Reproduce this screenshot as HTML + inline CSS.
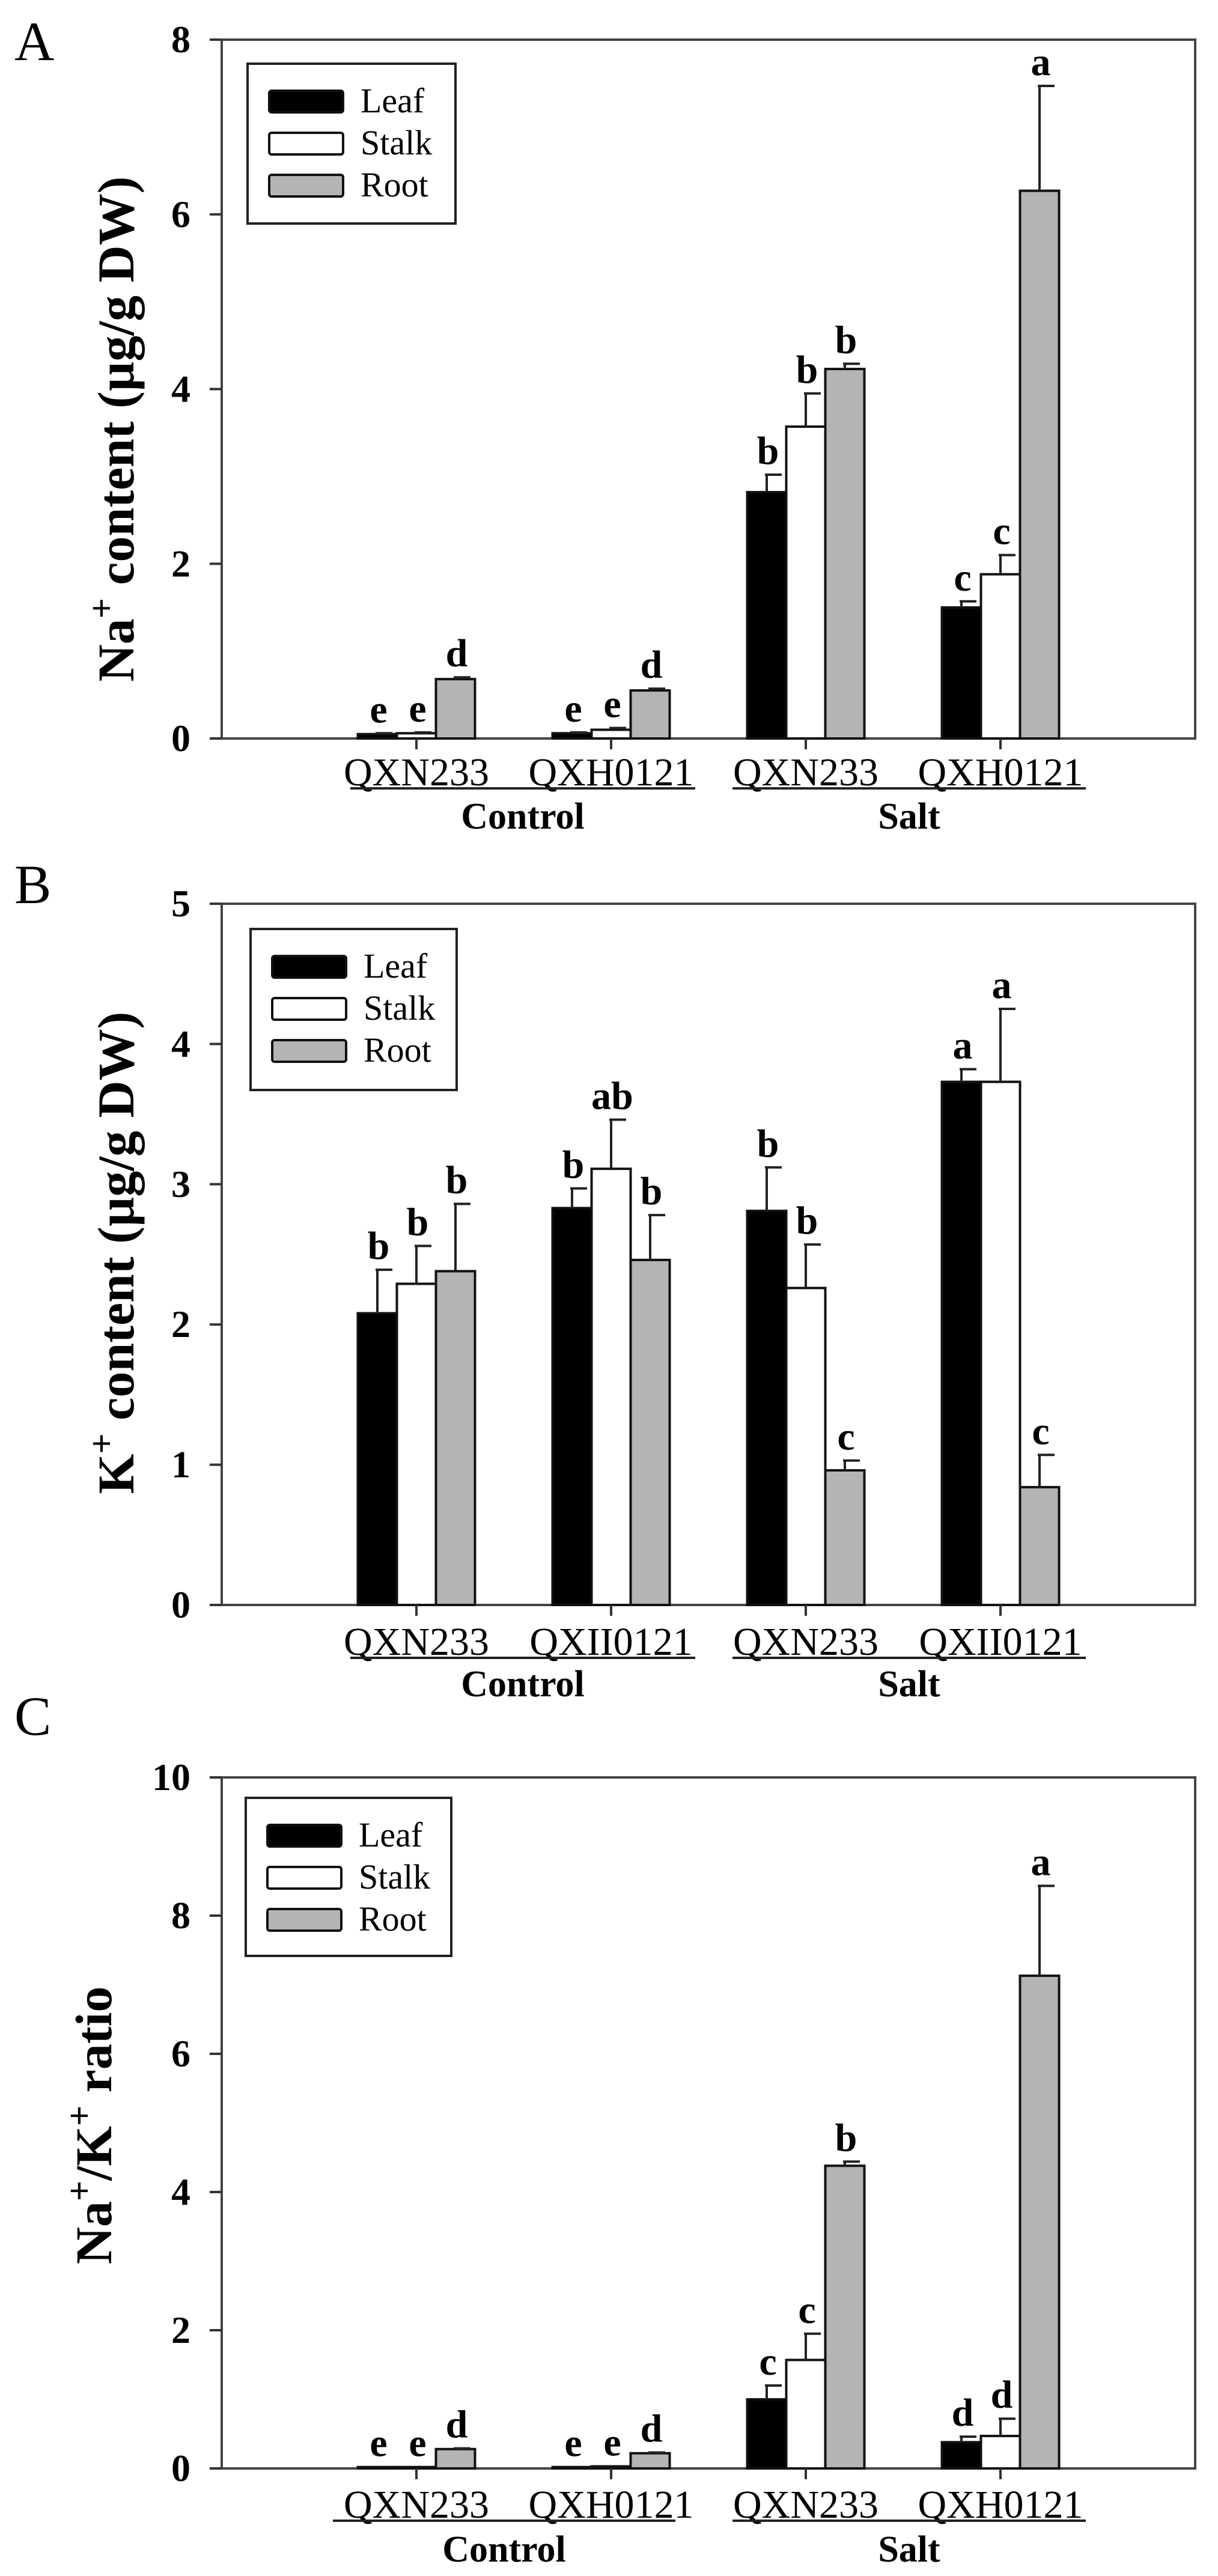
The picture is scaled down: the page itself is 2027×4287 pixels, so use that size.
<!DOCTYPE html>
<html><head><meta charset="utf-8"><style>
html,body{margin:0;padding:0;background:#fff;}
svg{display:block;font-family:"Liberation Serif",serif;}
</style></head><body>
<svg id="fig" width="2027" height="4287" viewBox="0 0 2027 4287" xmlns="http://www.w3.org/2000/svg"></svg>
<script>
const categories = ["QXN233","QXH0121","QXN233","QXH0121"];
const categoriesB = ["QXN233","QXII0121","QXN233","QXII0121"];
const seriesNames = ["Leaf","Stalk","Root"];
const groupNames = ["Control","Salt"];

const naLeaf = [0.05,0.06,2.82,1.50];
const naStalk = [0.06,0.10,3.57,1.88];
const naRoot = [0.68,0.55,4.23,6.27];
const naLeafErr = [0.01,0.01,0.20,0.07];
const naStalkErr = [0.01,0.02,0.38,0.22];
const naRootErr = [0.02,0.02,0.06,1.20];
const naLeafSig = ["e","e","b","c"];
const naStalkSig = ["e","e","b","c"];
const naRootSig = ["d","d","b","a"];
const naTicks = [0,2,4,6,8];

const kLeaf = [2.08,2.83,2.81,3.73];
const kStalk = [2.29,3.11,2.26,3.73];
const kRoot = [2.38,2.46,0.96,0.84];
const kLeafErr = [0.31,0.14,0.31,0.09];
const kStalkErr = [0.27,0.35,0.31,0.52];
const kRootErr = [0.48,0.32,0.07,0.23];
const kLeafSig = ["b","b","b","a"];
const kStalkSig = ["b","ab","b","a"];
const kRootSig = ["b","b","c","c"];
const kTicks = [0,1,2,3,4,5];

const rLeaf = [0.02,0.02,1.00,0.38];
const rStalk = [0.02,0.03,1.57,0.47];
const rRoot = [0.28,0.22,4.38,7.13];
const rLeafErr = [0,0,0.20,0.08];
const rStalkErr = [0,0,0.38,0.25];
const rRootErr = [0.01,0.01,0.06,1.30];
const rLeafSig = ["e","e","c","d"];
const rStalkSig = ["e","e","c","d"];
const rRootSig = ["d","d","b","a"];
const rTicks = [0,2,4,6,8,10];

const NS = "http://www.w3.org/2000/svg";
const svg = document.getElementById("fig");
function mk(tag, attrs, parent, text){
  const e = document.createElementNS(NS, tag);
  for (const k in attrs) e.setAttribute(k, attrs[k]);
  if (text !== undefined) e.textContent = text;
  (parent||svg).appendChild(e);
  return e;
}
const fills = ["#000","#fff","#b4b4b4"];

function panel(cfg){
  const g = mk("g",{});
  
  
  const L=369, R=1989, T=cfg.top, Z=cfg.zero, ymax=cfg.ticks[cfg.ticks.length-1];
  const ys = v => Z - (Z-T)*v/ymax;
  const xs = i => L + (R-L)*(i+1)/5;
  const pl = mk("text",{x:24,y:cfg.letterY,"font-size":92,fill:"#000"},g,cfg.letter);
  
  
  const fr = mk("rect",{x:L,y:T,width:R-L,height:Z-T,fill:"none",stroke:"#444","stroke-width":4},g);
  
  
  cfg.ticks.forEach(t=>{
    const y = ys(t);
    const tk = mk("line",{x1:L-20,x2:L,y1:y,y2:y,stroke:"#333","stroke-width":4},g);
    
    
    const tl = mk("text",{x:L-52,y:y+21,"font-size":64,"font-weight":"bold","text-anchor":"end"},g,String(t));
    
    
  });
  const yt = mk("text",{x:0,y:0,"font-size":86,"font-weight":"bold","text-anchor":"middle",transform:`translate(${cfg.titleX},${cfg.titleY}) rotate(-90)`},g);
  
  
  cfg.title.forEach(p=>{
    mk("tspan",p.sup?{"baseline-shift":"super","font-size":60}:{},yt,p.t);
  });
  const bw = 65;
  cfg.series.forEach((s,si)=>{
    s.vals.forEach((v,i)=>{
      const x = xs(i) - 1.5*bw + si*bw;
      const y = ys(v);
      const b = mk("rect",{x:x,y:y,width:bw,height:Math.max(Z-y,1),fill:fills[si],stroke:"#111","stroke-width":4},g);
      
      
      const ey = ys(v + s.err[i]);
      if (s.err[i] > 0) {
        const el = mk("path",{d:`M${x+bw/2} ${y} V${ey} M${x+bw/2-3} ${ey} H${x+bw/2+25}`,stroke:"#222","stroke-width":4,fill:"none"},g);
        
        
      }
      const st = mk("text",{x:x+bw/2+2,y:ey-18,"font-size":66,"font-weight":"bold","text-anchor":"middle"},g,s.sig[i]);
      
      
    });
  });
  cfg.cats.forEach((c,i)=>{
    const tk = mk("line",{x1:xs(i),x2:xs(i),y1:Z,y2:Z+18,stroke:"#333","stroke-width":4},g);
    
    
    const tl = mk("text",{x:xs(i),y:cfg.catY,"font-size":66,"text-anchor":"middle"},g,c);
    
    
  });
  cfg.groupLines.forEach((gl,k)=>{
    const ln = mk("line",{x1:gl[0],x2:gl[1],y1:cfg.lineY,y2:cfg.lineY,stroke:"#222","stroke-width":4},g);
    
    
    const gt = mk("text",{x:(gl[0]+gl[1])/2,y:cfg.groupY,"font-size":62,"font-weight":"bold","text-anchor":"middle"},g,groupNames[k]);
    
    
  });
  const lg = mk("g",{},g);
  
  
  const [lx,ly,lw,lh] = cfg.legend;
  mk("rect",{x:lx,y:ly,width:lw,height:lh,fill:"#fff",stroke:"#222","stroke-width":4},lg);
  seriesNames.forEach((n,si)=>{
    const ry = ly + 62 + si*70;
    const sw = mk("rect",{x:lx+36,y:ry-17,width:123,height:36,rx:4,fill:fills[si],stroke:"#111","stroke-width":4},lg);
    
    
    const lt = mk("text",{x:lx+188,y:ry+19,"font-size":58},lg,n);
    
    
  });
}

panel({name:"panel-a-na-content",letter:"A",letterY:100,top:66,zero:1229,ticks:naTicks,
  title:[{t:"Na"},{t:"+",sup:true},{t:" content (µg/g DW)"}],titleX:222,titleY:714,
  series:[{vals:naLeaf,err:naLeafErr,sig:naLeafSig},{vals:naStalk,err:naStalkErr,sig:naStalkSig},{vals:naRoot,err:naRootErr,sig:naRootSig}],
  cats:categories,catY:1307,lineY:1312,groupY:1379,groupLines:[[583,1157],[1219,1807]],legend:[412,106,346,266]});
panel({name:"panel-b-k-content",letter:"B",letterY:1503,top:1504,zero:2671,ticks:kTicks,
  title:[{t:"K"},{t:"+",sup:true},{t:" content (µg/g DW)"}],titleX:222,titleY:2085,
  series:[{vals:kLeaf,err:kLeafErr,sig:kLeafSig},{vals:kStalk,err:kStalkErr,sig:kStalkSig},{vals:kRoot,err:kRootErr,sig:kRootSig}],
  cats:categoriesB,catY:2754,lineY:2759,groupY:2823,groupLines:[[583,1157],[1219,1807]],legend:[417,1546,343,268]});
panel({name:"panel-c-na-k-ratio",letter:"C",letterY:2887,top:2958,zero:4108,ticks:rTicks,
  title:[{t:"Na"},{t:"+",sup:true},{t:"/K"},{t:"+",sup:true},{t:" ratio"}],titleX:185,titleY:3537,
  series:[{vals:rLeaf,err:rLeafErr,sig:rLeafSig},{vals:rStalk,err:rStalkErr,sig:rStalkSig},{vals:rRoot,err:rRootErr,sig:rRootSig}],
  cats:categories,catY:4190,lineY:4195,groupY:4263,groupLines:[[554,1124],[1219,1807]],legend:[409,2992,342,263]});
</script>
</body></html>
